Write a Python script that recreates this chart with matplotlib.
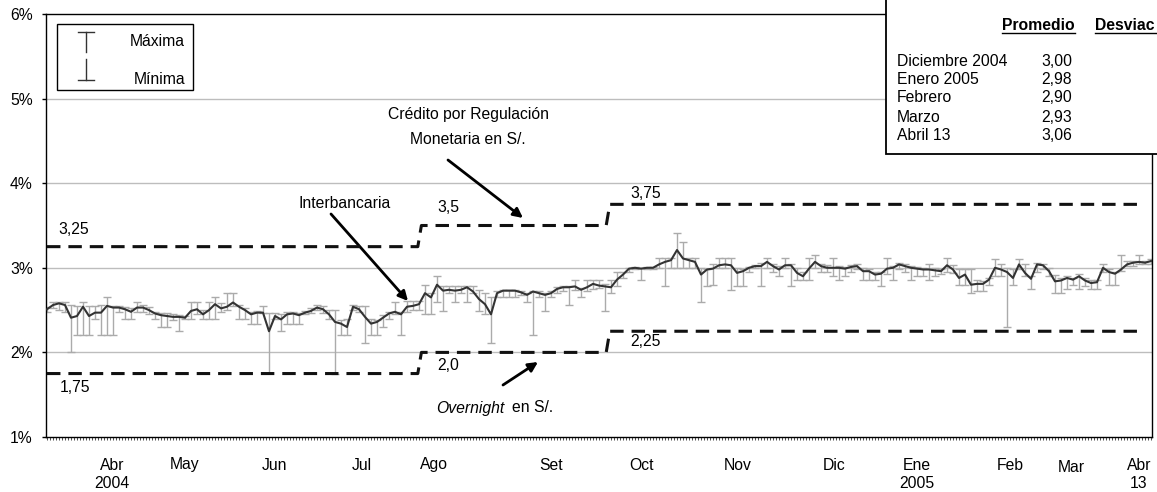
import matplotlib
matplotlib.use('Agg')
import matplotlib.pyplot as plt
import matplotlib.transforms as mtransforms
from matplotlib.patches import Rectangle
from matplotlib.lines import Line2D
import numpy as np

plt.rcParams['font.family'] = ['Liberation Sans', 'DejaVu Sans']
FS = 11.3

# ---------------- data ----------------
interbank_avg = [
    2.51, 2.56, 2.58, 2.56, 2.41, 2.43, 2.54, 2.43, 2.47, 2.47, 2.55, 2.53, 2.53, 2.51, 2.48, 2.53,
    2.53, 2.50, 2.46, 2.44, 2.43, 2.42, 2.42, 2.41, 2.49, 2.51, 2.45, 2.50, 2.57, 2.52, 2.54, 2.59,
    2.54, 2.50, 2.45, 2.47, 2.47, 2.25, 2.43, 2.39, 2.45, 2.46, 2.44, 2.47, 2.49, 2.53, 2.51, 2.45,
    2.36, 2.34, 2.30, 2.54, 2.51, 2.42, 2.34, 2.36, 2.41, 2.46, 2.48, 2.45, 2.54, 2.55, 2.57,
    2.70, 2.65, 2.80, 2.73, 2.74, 2.73, 2.74, 2.77, 2.72, 2.63, 2.57, 2.45, 2.70, 2.73, 2.73, 2.73,
    2.71, 2.68, 2.72, 2.70, 2.68, 2.70, 2.75, 2.77, 2.77, 2.78, 2.74, 2.77, 2.81, 2.79,
    2.78, 2.77, 2.86, 2.92, 2.99, 3.00, 2.99, 3.00, 3.00, 3.04, 3.07, 3.09, 3.21, 3.11, 3.09, 3.07,
    2.92, 2.98, 2.99, 3.03, 3.04, 3.03, 2.94, 2.96, 3.00, 3.02, 3.02, 3.07, 3.02, 2.98, 3.03,
    3.03, 2.94, 2.90, 2.99, 3.07, 3.02, 3.00, 3.00, 3.00, 2.99, 3.01, 3.02, 2.96, 2.96, 2.92, 2.93,
    2.99, 3.00, 3.04, 3.02, 3.00, 2.99, 2.98, 2.98, 2.97, 2.96, 3.03, 2.98, 2.88, 2.92, 2.80,
    2.81, 2.81, 2.86, 3.00, 2.98, 2.95, 2.88, 3.04, 2.94, 2.87, 3.04, 3.03, 2.96, 2.84, 2.85, 2.88,
    2.86, 2.90, 2.85, 2.82, 2.83, 3.00, 2.95, 2.93, 2.98, 3.04, 3.06, 3.07, 3.06, 3.08,
]
interbank_max = [
    2.54, 2.60, 2.60, 2.60, 2.56, 2.55, 2.60, 2.55, 2.55, 2.56, 2.65, 2.55, 2.55, 2.54, 2.52, 2.60,
    2.56, 2.54, 2.48, 2.47, 2.46, 2.45, 2.44, 2.43, 2.60, 2.60, 2.50, 2.60, 2.65, 2.58, 2.70, 2.70,
    2.56, 2.52, 2.48, 2.49, 2.55, 2.47, 2.46, 2.45, 2.48, 2.48, 2.47, 2.49, 2.52, 2.56, 2.55, 2.50,
    2.50, 2.38, 2.40, 2.56, 2.55, 2.55, 2.40, 2.38, 2.44, 2.48, 2.59, 2.48, 2.61, 2.61, 2.61,
    2.80, 2.70, 2.90, 2.78, 2.78, 2.78, 2.78, 2.78, 2.78, 2.74, 2.70, 2.65, 2.72, 2.74, 2.74, 2.74,
    2.73, 2.70, 2.73, 2.72, 2.70, 2.72, 2.77, 2.78, 2.78, 2.86, 2.76, 2.85, 2.85, 2.85,
    2.81, 2.85, 2.95, 2.95, 3.00, 3.01, 3.00, 3.01, 3.01, 3.11, 3.11, 3.11, 3.41, 3.30, 3.11, 3.11,
    3.00, 2.99, 3.04, 3.11, 3.11, 3.11, 3.00, 2.98, 3.01, 3.03, 3.06, 3.11, 3.05, 3.02, 3.11,
    3.05, 3.00, 2.95, 3.11, 3.15, 3.05, 3.03, 3.11, 3.02, 3.01, 3.03, 3.04, 3.00, 2.98, 2.95, 2.95,
    3.11, 3.02, 3.06, 3.04, 3.02, 3.01, 3.00, 3.04, 3.00, 2.98, 3.11, 3.03, 2.98, 2.98, 2.98,
    2.86, 2.84, 2.88, 3.10, 3.04, 3.00, 2.98, 3.10, 3.04, 2.90, 3.06, 3.04, 3.00, 2.92, 2.88, 2.90,
    2.88, 2.93, 2.88, 2.86, 2.86, 3.04, 2.98, 2.95, 3.15, 3.08, 3.08, 3.15, 3.08, 3.10,
]
interbank_min = [
    2.48, 2.52, 2.50, 2.48, 2.01, 2.21, 2.21, 2.21, 2.40, 2.21, 2.21, 2.21, 2.48, 2.40, 2.40, 2.48,
    2.48, 2.45, 2.40, 2.30, 2.30, 2.38, 2.25, 2.40, 2.40, 2.45, 2.40, 2.40, 2.40, 2.48, 2.50, 2.55,
    2.40, 2.40, 2.34, 2.34, 2.46, 1.76, 2.40, 2.25, 2.34, 2.34, 2.34, 2.45, 2.47, 2.50, 2.46, 2.40,
    1.75, 2.21, 2.21, 2.50, 2.48, 2.11, 2.21, 2.21, 2.30, 2.40, 2.45, 2.21, 2.48, 2.50, 2.50,
    2.45, 2.45, 2.60, 2.49, 2.70, 2.60, 2.70, 2.60, 2.70, 2.49, 2.45, 2.11, 2.65, 2.65, 2.65, 2.65,
    2.68, 2.60, 2.20, 2.65, 2.49, 2.65, 2.70, 2.72, 2.56, 2.74, 2.65, 2.72, 2.75, 2.76,
    2.49, 2.70, 2.78, 2.88, 2.95, 2.98, 2.86, 2.99, 2.99, 3.00, 2.79, 3.00, 3.00, 3.00, 3.00, 3.00,
    2.60, 2.79, 2.80, 3.00, 3.00, 2.74, 2.79, 2.79, 2.95, 3.00, 2.79, 3.00, 2.95, 2.90, 3.00,
    2.79, 2.86, 2.86, 2.86, 3.00, 2.95, 2.95, 2.90, 2.86, 2.90, 2.95, 2.98, 2.86, 2.86, 2.86, 2.79,
    2.93, 2.86, 2.98, 2.95, 2.86, 2.90, 2.90, 2.86, 2.90, 2.93, 2.95, 2.94, 2.80, 2.80, 2.70,
    2.72, 2.72, 2.80, 2.90, 2.90, 2.30, 2.80, 2.98, 2.90, 2.75, 2.95, 2.98, 2.90, 2.70, 2.70, 2.75,
    2.80, 2.75, 2.78, 2.75, 2.75, 2.95, 2.80, 2.80, 2.96, 3.02, 3.02, 3.04, 3.04, 3.05,
]

# corridor rates (credito por regulacion monetaria / overnight) and day index of each change
credit_rates = [3.25, 3.5, 3.75]
overnight_rates = [1.75, 2.0, 2.25]
rate_change_idx = [61.8, 93.2]
rate_end_idx = 182.7

credit_labels = ['3,25', '3,5', '3,75']
overnight_labels = ['1,75', '2,0', '2,25']

month_labels = ['Abr\n2004', 'May', 'Jun', 'Jul', 'Ago', 'Set', 'Oct', 'Nov', 'Dic',
                'Ene\n2005', 'Feb', 'Mar', 'Abr\n13']

ytick_vals = [1, 2, 3, 4, 5, 6]
ytick_labels = ['1%', '2%', '3%', '4%', '5%', '6%']

table_months = ['Diciembre 2004', 'Enero 2005', 'Febrero', 'Marzo', 'Abril 13']
table_promedio = ['3,00', '2,98', '2,90', '2,93', '3,06']

# ---------------- figure ----------------
W, H, DPI = 1157, 492, 100
fig = plt.figure(figsize=(W / DPI, H / DPI), dpi=DPI)
fig.patch.set_facecolor('white')

# pixel transform (origin top-left)
PX = mtransforms.Affine2D().scale(1.0 / W, -1.0 / H).translate(0, 1) + fig.transFigure

AX_L, AX_R, AX_T, AX_B = 46, 1152, 14, 437
ax = fig.add_axes([AX_L / W, 1 - AX_B / H, (AX_R - AX_L) / W, (AX_B - AX_T) / H])

N = len(interbank_avg)
x = np.arange(N)
avg = np.array(interbank_avg)
hi = np.array(interbank_max)
lo = np.array(interbank_min)

X0, DX = 47, 6.0   # pixel of first point, pixels per point
ax.set_xlim((AX_L - X0) / DX, (AX_R - X0) / DX)
ax.set_ylim(1, 6)

# grid
for v in [2, 3, 4, 5]:
    ax.axhline(v, color='#bdbdbd', lw=1.0, zorder=0)

# error bars + line
ax.errorbar(x, avg, yerr=[avg - lo, hi - avg], fmt='none', ecolor='#ababab',
            elinewidth=1.0, capsize=2.8, capthick=1.0, zorder=2)
ax.plot(x, avg, color='#333333', lw=1.5, zorder=3)

# corridor step lines
def step_xy(rates):
    xs = [0, rate_change_idx[0], rate_change_idx[0] + 0.6,
          rate_change_idx[1], rate_change_idx[1] + 0.6, rate_end_idx]
    ys = [rates[0], rates[0], rates[1], rates[1], rates[2], rates[2]]
    return xs, ys

for rates in (credit_rates, overnight_rates):
    xs, ys = step_xy(rates)
    ax.plot(xs, ys, color='#111111', lw=2.2, ls=(0, (4.4, 2.6)), zorder=4,
            solid_capstyle='butt', dash_capstyle='butt')

# axes styling
ax.set_yticks(ytick_vals)
ax.set_yticklabels(ytick_labels, fontsize=FS)
ax.tick_params(axis='y', direction='out', length=3, width=1, pad=6.5, colors='black')
ax.set_xticks([])
ax.set_xticks(np.arange(0, (AX_R - X0) / DX, 0.5), minor=True)
ax.tick_params(axis='x', which='minor', direction='out', length=2.2, width=0.6, colors='#333333')
for s in ax.spines.values():
    s.set_color('black')
    s.set_linewidth(1.0)

# month labels (pixel x positions)
month_px = [112, 185, 275, 362, 434, 551, 642, 738, 834, 917, 1010, 1071, 1139]
for lab, mx in zip(month_labels, month_px):
    yoff = 468 if lab == 'Mar' else 465
    lines = lab.split('\n')
    fig.text(mx, yoff, lines[0], transform=PX, ha='center', va='center', fontsize=FS)
    if len(lines) > 1:
        fig.text(mx, yoff + 18, lines[1], transform=PX, ha='center', va='center', fontsize=FS)

# rate labels
rate_label_px = [(58, 230), (437, 207), (630, 194)]
for lab, (lx, ly) in zip(credit_labels, rate_label_px):
    fig.text(lx, ly, lab, transform=PX, ha='left', va='center', fontsize=FS)
on_label_px = [(60, 388), (437, 365), (630, 342)]
for lab, (lx, ly) in zip(overnight_labels, on_label_px):
    fig.text(lx, ly, lab, transform=PX, ha='left', va='center', fontsize=FS)

# annotations
arrow = dict(arrowstyle='-|>', color='black', lw=2.0, mutation_scale=14, shrinkA=0, shrinkB=0)
fig.text(345, 203, 'Interbancaria', transform=PX, ha='center', va='center', fontsize=FS)
ax.annotate('', xy=(408, 301), xycoords=PX, xytext=(331, 214), textcoords=PX, arrowprops=arrow)

fig.text(468, 115, 'Crédito por Regulación', transform=PX, ha='center', va='center', fontsize=FS)
fig.text(468, 140, 'Monetaria en S/.', transform=PX, ha='center', va='center', fontsize=FS)
ax.annotate('', xy=(523, 218), xycoords=PX, xytext=(448, 160), textcoords=PX, arrowprops=arrow)

fig.text(504, 408, 'Overnight', transform=PX, ha='right', va='center', fontsize=FS, style='italic')
fig.text(512, 408, 'en S/.', transform=PX, ha='left', va='center', fontsize=FS)
ax.annotate('', xy=(538, 362), xycoords=PX, xytext=(503, 385), textcoords=PX, arrowprops=arrow)

# legend box
fig.add_artist(Rectangle((57, 24), 136, 66, transform=PX, facecolor='white',
                         edgecolor='black', lw=1.0, zorder=5))
lg = dict(transform=PX, color='#333333', lw=1.0, zorder=6)
fig.add_artist(Line2D([86, 86], [32, 52], **lg))
fig.add_artist(Line2D([78, 94], [32, 32], **lg))
fig.add_artist(Line2D([86, 86], [59, 80], **lg))
fig.add_artist(Line2D([78, 94], [80, 80], **lg))
fig.text(185, 42, 'Máxima', transform=PX, ha='right', va='center', fontsize=FS, zorder=7)
fig.text(185, 80, 'Mínima', transform=PX, ha='right', va='center', fontsize=FS, zorder=7)

# table box (top right)
fig.add_artist(Rectangle((886, -5), 300, 159, transform=PX, facecolor='white',
                         edgecolor='black', lw=1.3, zorder=5))
fig.text(1002, 25, 'Promedio', transform=PX, ha='left', va='center', fontsize=FS,
         fontweight='bold', zorder=7)
fig.text(1095, 25, 'Desviac', transform=PX, ha='left', va='center', fontsize=FS,
         fontweight='bold', zorder=7)
fig.add_artist(Line2D([1002, 1075], [33, 33], transform=PX, color='black', lw=1.0, zorder=7))
fig.add_artist(Line2D([1095, 1160], [33, 33], transform=PX, color='black', lw=1.0, zorder=7))
row_y = [61, 79, 98, 117, 136]
for m, p, ry in zip(table_months, table_promedio, row_y):
    fig.text(897, ry, m, transform=PX, ha='left', va='center', fontsize=FS, zorder=7)
    fig.text(1072, ry, p, transform=PX, ha='right', va='center', fontsize=FS, zorder=7)

fig.savefig('out.png', dpi=DPI, facecolor='white')
